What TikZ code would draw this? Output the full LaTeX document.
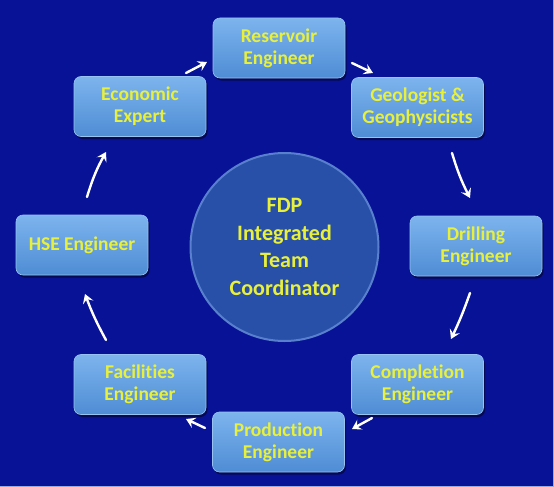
\documentclass[tikz,border=0pt]{standalone}
\usepackage{fontspec}
\setmainfont{Carlito}[RawFeature={-liga;-clig;-calt;-dlig}]
\usetikzlibrary{arrows.meta,shadows}
\definecolor{bg}{RGB}{8,18,150}
\definecolor{boxtop}{RGB}{125,180,238}
\definecolor{boxbot}{RGB}{78,140,212}
\definecolor{boxedge}{RGB}{150,195,240}
\definecolor{txt}{RGB}{232,240,60}
\definecolor{circfill}{RGB}{40,80,168}
\definecolor{circedge}{RGB}{88,128,205}
\definecolor{frame}{RGB}{150,170,230}
\tikzset{
  rolebox/.style={rectangle, rounded corners=7pt, minimum width=132pt, minimum height=60pt,
    top color=boxtop, bottom color=boxbot, draw=boxedge, line width=0.6pt,
    drop shadow={shadow xshift=1.5pt, shadow yshift=-2.5pt, opacity=0.45, fill=black},
    text=txt, font=\fontsize{19.5}{22}\selectfont\bfseries, align=center, inner sep=2pt},
  hub/.style={circle, minimum size=188pt, fill=circfill, draw=circedge, line width=2pt,
    text=txt, font=\fontsize{22}{27.5}\selectfont\bfseries, align=center},
  flow/.style={draw=white, line width=2.4pt, line cap=round,
    -{Stealth[length=9pt,width=11pt,inset=3.5pt]}}
}
\begin{document}
\begin{tikzpicture}[x=1pt,y=-1pt]
\fill[bg] (0,0) rectangle (554,487);
\useasboundingbox (0,0) rectangle (554,487);
\draw[frame, line width=1.2pt] (553.4,0) -- (553.4,486.4) -- (0,486.4);

\node[hub] (hub) at (284.5,247) {FDP\\Integrated\\Team\\Coordinator};

\node[rolebox] (res)  at (279,48)    {Reservoir\\Engineer};
\node[rolebox] (geo)  at (417.5,107.5) {Geologist \&\\Geophysicists};
\node[rolebox] (dri)  at (476,246)   {Drilling\\Engineer};
\node[rolebox] (com)  at (417.5,384.5) {Completion\\Engineer};
\node[rolebox] (pro)  at (278.5,442) {Production\\Engineer};
\node[rolebox] (fac)  at (140,384.5) {Facilities\\Engineer};
\node[rolebox] (hse)  at (82,245)    {HSE Engineer};
\node[rolebox] (eco)  at (140,106.5) {Economic\\Expert};

% arrow end points
\coordinate (a1s) at (186,73);  \coordinate (a1e) at (207,62);
\coordinate (a2s) at (352,63);  \coordinate (a2e) at (373,73);
\coordinate (a3s) at (452,153); \coordinate (a3e) at (470,198);
\coordinate (a4s) at (470,293); \coordinate (a4e) at (451,339);
\coordinate (a5s) at (372,418); \coordinate (a5e) at (352,429);
\coordinate (a6s) at (205,428); \coordinate (a6e) at (186,419);
\coordinate (a7s) at (106,340); \coordinate (a7e) at (85,294);
\coordinate (a8s) at (87,197);  \coordinate (a8e) at (106,152);

\draw[flow] (a1s) -- (a1e);
\draw[flow] (a2s) -- (a2e);
\draw[flow] (a3s) to[bend right=5] (a3e);
\draw[flow] (a4s) to[bend left=3] (a4e);
\draw[flow] (a5s) -- (a5e);
\draw[flow] (a6s) -- (a6e);
\draw[flow] (a7s) to[bend left=4] (a7e);
\draw[flow] (a8s) to[bend left=6] (a8e);
\end{tikzpicture}
\end{document}
